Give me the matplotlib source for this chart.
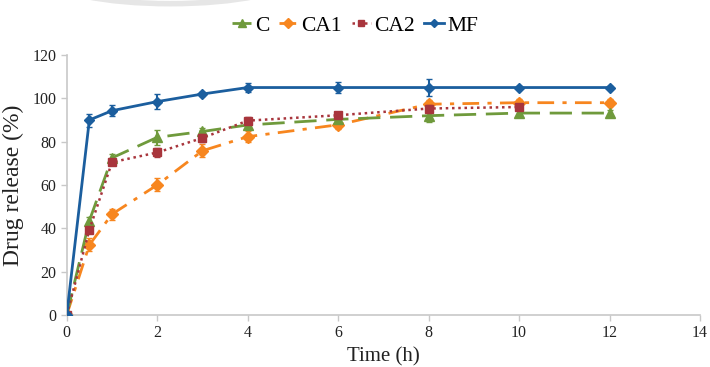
import matplotlib
matplotlib.use('Agg')
from matplotlib import pyplot as plt
from matplotlib.patches import Ellipse
import numpy as np

plt.rcParams['font.family'] = ['Liberation Serif', 'DejaVu Serif']

# release data
time = [0, 0.5, 1, 2, 3, 4, 6, 8, 10, 12]
c_rel = [0, 43.5, 72.5, 82, 84.7, 87.7, 90.3, 92, 93.2, 93.2]
c_err = [0, 1.5, 2, 3.5, 1.5, 1.5, 1.5, 3, 1.5, 1.5]
ca1_rel = [0, 32.3, 46.5, 60, 75.8, 82.3, 87.8, 97.3, 98, 98]
ca1_err = [0, 3, 2.5, 3, 3, 2.5, 2, 2, 1.5, 1.5]
ca2_time = [0, 0.5, 1, 2, 3, 4, 6, 8, 10]
ca2_rel = [0, 39.3, 70.5, 75, 81.7, 89.7, 92.2, 95.3, 96]
ca2_err = [0, 1.5, 1.5, 2, 2, 1.5, 1.5, 1.5, 1.5]
mf_rel = [0, 90, 94.3, 98.5, 102, 105, 105, 105, 105, 105]
mf_err = [0, 3, 2.5, 3.5, 1, 2, 2.5, 4, 0.8, 0.8]

x_ticks = [0, 2, 4, 6, 8, 10, 12, 14]
y_ticks = [0, 20, 40, 60, 80, 100, 120]

fig = plt.figure(figsize=(7.1, 3.67), dpi=100)
ax = fig.add_axes([0.094, 0.142, 0.892, 0.708])

# faint grey arc at the top of the scan
fig.patches.append(Ellipse((0.24, 1.06), 0.34, 0.14, transform=fig.transFigure,
                           facecolor='none', edgecolor='#e6e6e6', lw=4))

green = '#6f9a3c'
orange = '#f7861f'
red = '#a8353c'
blue = '#1b5e9e'

c = ax.errorbar(time, c_rel, yerr=c_err, color=green, lw=2, dashes=(8, 3.5),
                marker='^', ms=7, capsize=2, elinewidth=1.5, label='C', zorder=3)
ca1 = ax.errorbar(time, ca1_rel, yerr=ca1_err, color=orange, lw=2, dashes=(6, 3, 1.5, 3),
                  marker='D', ms=6.5, capsize=2, elinewidth=1.5, label='CA1', zorder=2)
ca2 = ax.errorbar(ca2_time, ca2_rel, yerr=ca2_err, color=red, lw=1.8, dashes=(1, 1.5),
                  marker='s', ms=5.5, capsize=2, elinewidth=1.5, label='CA2', zorder=4)
mf = ax.errorbar(time, mf_rel, yerr=mf_err, color=blue, lw=2, marker='D', ms=5.5,
                 capsize=2, elinewidth=1.5, label='MF', zorder=5)

ax.set_xlim(0, 14)
ax.set_ylim(0, 120)
ax.set_xticks(x_ticks)
ax.set_yticks(y_ticks)
for s in ['top', 'right']:
    ax.spines[s].set_visible(False)
for s in ['left', 'bottom']:
    ax.spines[s].set_color('#c8c8c8')
    ax.spines[s].set_linewidth(1.2)
ax.tick_params(colors='#c8c8c8', labelcolor='#222222', labelsize=11.5, length=4, width=1)
ax.set_xlabel('Time (h)', fontsize=15, color='#222222', labelpad=4)
ax.set_ylabel('Drug release (%)', fontsize=17, color='#222222', labelpad=6)

# legend shows only line + marker, no error bars
handles = [c[0], ca1[0], ca2[0], mf[0]]
labels = ['C', 'CA1', 'CA2', 'MF']
fig.legend(handles, labels, loc='center', bbox_to_anchor=(0.5, 0.93), ncol=4,
           frameon=False, fontsize=15.5, handlelength=0.9, handletextpad=0.15,
           columnspacing=0.45, markerscale=0.75)

fig.savefig('out.png', dpi=100)
